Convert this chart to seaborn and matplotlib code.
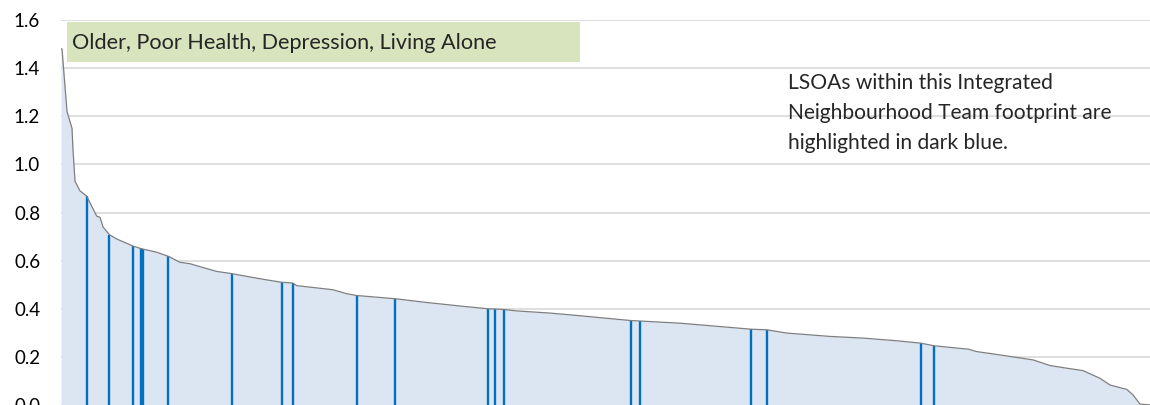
import matplotlib
matplotlib.use("Agg")
import matplotlib.pyplot as plt
import seaborn as sns
import pandas as pd
from matplotlib.patches import Rectangle

# LSOA rank (sorted by score, descending) and score
rank = [0, 1, 6, 11, 12, 14, 19, 25.7, 30.7, 35.7, 39, 42, 48.3, 55.7, 72.3,
        80.7, 95.7, 107.3, 119, 129, 155.7, 170.7, 189, 205.7, 220.7, 231.7,
        235.7, 272, 285.7, 295.7, 334, 365.7, 402.3, 426.7, 443, 455.7, 489,
        519, 569.7, 579, 619, 659, 690, 705.7, 725.7, 769, 802.3, 835.7, 859.7,
        873.3, 907.3, 915.7, 939, 972, 989, 1005.7, 1022, 1039, 1049, 1065.7,
        1072, 1079, 1089]
score = [1.48, 1.48, 1.22, 1.15, 1.06, 0.93, 0.89, 0.868, 0.826, 0.785, 0.78,
         0.74, 0.708, 0.69, 0.66, 0.649, 0.635, 0.618, 0.593, 0.587, 0.555,
         0.546, 0.532, 0.52, 0.51, 0.507, 0.496, 0.479, 0.4625, 0.455, 0.4417,
         0.426, 0.41, 0.40, 0.397, 0.391, 0.382, 0.371, 0.351, 0.349, 0.340,
         0.326, 0.315, 0.3125, 0.299, 0.285, 0.278, 0.267, 0.257, 0.246, 0.232,
         0.222, 0.208, 0.1875, 0.164, 0.153, 0.143, 0.111, 0.083, 0.065, 0.042,
         0.004, 0.0]

# LSOAs inside the Integrated Neighbourhood Team footprint
team_rank = [25.7, 48.3, 72.3, 79.7, 81.7, 107.3, 170.7, 220.7, 231.7, 295.7,
             334, 426.7, 434, 443, 569.7, 579, 690, 705.7, 859.7, 873.3]
team_score = [0.868, 0.708, 0.66, 0.652, 0.648, 0.618, 0.546, 0.51, 0.507,
              0.455, 0.4417, 0.40, 0.399, 0.397, 0.351, 0.349, 0.315, 0.3125,
              0.257, 0.246]

title = "Older, Poor Health, Depression, Living Alone"
note = "LSOAs within this Integrated\nNeighbourhood Team footprint are\nhighlighted in dark blue."

sns.set_style("white")
plt.rcParams['font.family'] = ['Lato', 'DejaVu Sans']

W, H = 1150, 405
fig = plt.figure(figsize=(W / 100, H / 100), dpi=100)
ax = fig.add_axes([61 / W, 0, 1 - 61 / W, (H - 20) / H])

df = pd.DataFrame({'rank': rank, 'score': score})
ax.fill_between(df['rank'], df['score'], 0, color='#DCE6F2', lw=0, zorder=1)
sns.lineplot(data=df, x='rank', y='score', ax=ax, color='#7F7F7F', lw=0.9, zorder=3)
ax.vlines(team_rank, 0, team_score, color='#0070C0', lw=1.7, zorder=2)

ax.set_xlim(0, 1089)
ax.set_ylim(0, 1.6)
ax.set_yticks([i * 0.2 for i in range(9)])
ax.set_yticklabels([f'{i * 0.2:.1f}' for i in range(9)])
ax.set_xticks([])
ax.set_xlabel('')
ax.set_ylabel('')
ax.grid(axis='y', color='#D9D9D9', lw=1.2, zorder=0)
ax.set_axisbelow(True)
ax.tick_params(axis='y', length=0, pad=15, labelsize=13.5, colors='#000000')
sns.despine(ax=ax, left=True, bottom=True)

# title box
fig.patches.append(Rectangle((67 / W, 1 - 62 / H), (580 - 67) / W, 40 / H,
                             transform=fig.transFigure, facecolor='#D7E4BD',
                             edgecolor='none', zorder=5))
fig.text(72 / W, 1 - 43 / H, title, fontsize=15.6, va='center', ha='left', zorder=6)

fig.text(788 / W, 1 - 113 / H, note, fontsize=15.1, va='center', ha='left',
         linespacing=1.6)

plt.savefig('out.png', dpi=100)
